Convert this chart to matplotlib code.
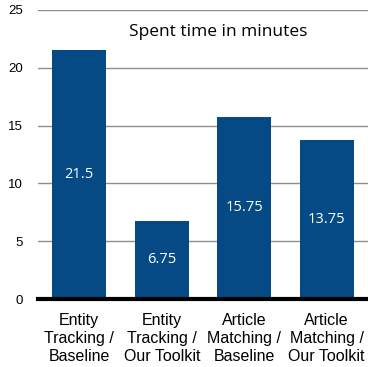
import matplotlib.pyplot as plt

categories = ['Entity\nTracking /\nBaseline', 'Entity\nTracking /\nOur Toolkit',
              'Article\nMatching /\nBaseline', 'Article\nMatching /\nOur Toolkit']
minutes = [21.5, 6.75, 15.75, 13.75]
value_labels = ['21.5', '6.75', '15.75', '13.75']
y_ticks = [0, 5, 10, 15, 20, 25]

bar_color = '#054a84'

fig = plt.figure(figsize=(3.68, 3.67), dpi=100)
ax = fig.add_axes([38 / 368, 1 - 299 / 367, 330 / 368, 289 / 367])

x = range(len(categories))
bars = ax.bar(x, minutes, width=0.655, color=bar_color, zorder=3)

# white value labels at mid-height of each bar
for bar, val, txt in zip(bars, minutes, value_labels):
    ax.text(bar.get_x() + bar.get_width() / 2, val / 2, txt,
            ha='center', va='center', color='white',
            family='Open Sans', fontsize=10.5, zorder=4)

ax.set_xlim(-0.5, 3.5)
ax.set_ylim(0, 25)
ax.set_yticks(y_ticks)
ax.set_yticklabels([str(t) for t in y_ticks], family='Liberation Sans', fontsize=9.5)
ax.set_xticks(list(x))
ax.set_xticklabels(categories, family='Liberation Sans', fontsize=11.5, linespacing=1.25)
ax.tick_params(axis='both', length=0)
ax.tick_params(axis='y', pad=11)
ax.tick_params(axis='x', pad=10)

ax.yaxis.grid(True, color='#8e8e8e', linewidth=1, zorder=0)
for s in ['left', 'right', 'top']:
    ax.spines[s].set_visible(False)
ax.spines['bottom'].set_linewidth(3)
ax.spines['bottom'].set_color('black')
ax.spines['bottom'].set_zorder(5)

ax.text(0.545, 0.925, 'Spent time in minutes', transform=ax.transAxes,
        ha='center', va='center', family='Open Sans', fontsize=12.5,
        bbox=dict(facecolor='white', edgecolor='none', pad=2), zorder=2)

fig.savefig('out.png', dpi=100)
